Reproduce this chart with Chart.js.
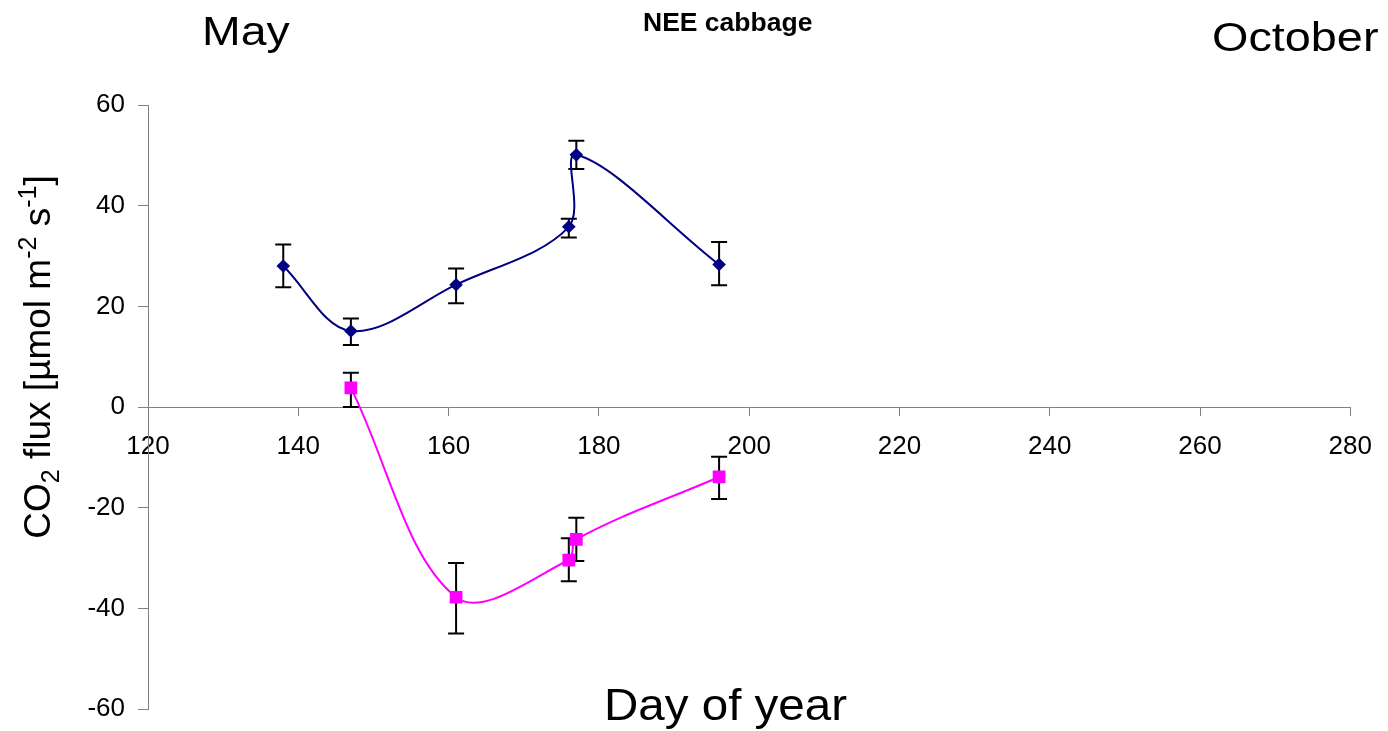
<!DOCTYPE html>
<html>
<head>
<meta charset="utf-8">
<script src="https://cdn.jsdelivr.net/npm/chart.js@4/dist/chart.umd.min.js"></script>
<style>
  html, body { margin: 0; padding: 0; background: #fff; }
  #wrap { width: 1388px; height: 731px; }
</style>
</head>
<body>
<div id="wrap"><canvas id="c" width="1388" height="731"></canvas></div>
<script>
// Axis ticks
const xTicks = [120, 140, 160, 180, 200, 220, 240, 260, 280];
const yTicks = [-60, -40, -20, 0, 20, 40, 60];

// Upper (positive) flux series, day of year, mean and error range
const daysA = [138, 147, 161, 176, 177, 196];
const fluxA = [28.0, 15.1, 24.3, 35.8, 50.1, 28.3];
const lowA  = [23.8, 12.3, 20.6, 33.7, 47.3, 24.2];
const highA = [32.3, 17.6, 27.5, 37.4, 52.9, 32.8];

// Lower (NEE) flux series
const daysB = [147, 161, 176, 177, 196];
const fluxB = [3.8, -37.8, -30.4, -26.3, -13.9];
const lowB  = [0.0, -45.0, -34.6, -30.6, -18.3];
const highB = [6.8, -31.0, -26.1, -22.0, -9.9];

const FONT = '"Liberation Sans", Arial, Helvetica, sans-serif';

const errorSets = [
  { days: daysA, low: lowA, high: highA },
  { days: daysB, low: lowB, high: highB }
];

// Vertical error bars with caps, drawn beneath the lines and markers
const errorBars = {
  id: 'errorBars',
  beforeDatasetsDraw(chart) {
    const { ctx, scales: { x, y } } = chart;
    const cap = 8;
    ctx.save();
    ctx.strokeStyle = '#000';
    ctx.lineWidth = 2;
    errorSets.forEach(set => {
      set.days.forEach((d, i) => {
        const px = x.getPixelForValue(d);
        const top = y.getPixelForValue(set.high[i]);
        const bot = y.getPixelForValue(set.low[i]);
        ctx.beginPath();
        ctx.moveTo(px, top); ctx.lineTo(px, bot);
        ctx.moveTo(px - cap, top); ctx.lineTo(px + cap, top);
        ctx.moveTo(px - cap, bot); ctx.lineTo(px + cap, bot);
        ctx.stroke();
      });
    });
    ctx.restore();
  }
};

function drawText(ctx, text, x, y, font, sx) {
  ctx.save();
  ctx.translate(x, y);
  ctx.scale(sx || 1, 1);
  ctx.font = font;
  ctx.fillText(text, 0, 0);
  ctx.restore();
}

// Titles, month markers and the axis captions
const captions = {
  id: 'captions',
  afterDraw(chart) {
    const ctx = chart.ctx;
    ctx.save();
    ctx.fillStyle = '#000';
    ctx.textBaseline = 'alphabetic';
    ctx.textAlign = 'left';
    drawText(ctx, 'NEE cabbage', 643, 31, 'bold 25px ' + FONT, 1.06);
    drawText(ctx, 'May', 202, 45, '40px ' + FONT, 1.16);
    drawText(ctx, 'October', 1212, 51, '40px ' + FONT, 1.17);
    drawText(ctx, 'Day of year', 604, 720, '44px ' + FONT, 1.08);

    // Rotated y caption with sub- and superscripts
    const big = '37px ' + FONT, small = '25px ' + FONT;
    const parts = [
      ['CO', big, 0], ['2', small, 9], [' flux [\u00b5mol m', big, 0],
      ['-2', small, -14], [' s', big, 0], ['-1', small, -14], [']', big, 0]
    ];
    let total = 0;
    parts.forEach(p => { ctx.font = p[1]; total += ctx.measureText(p[0]).width; });
    ctx.translate(50, 357);
    ctx.rotate(-Math.PI / 2);
    let cx = -total / 2;
    parts.forEach(p => {
      ctx.font = p[1];
      ctx.fillText(p[0], cx, p[2]);
      cx += ctx.measureText(p[0]).width;
    });
    ctx.restore();
  }
};

const toPoints = (xs, ys) => xs.map((d, i) => ({ x: d, y: ys[i] }));

new Chart(document.getElementById('c'), {
  type: 'line',
  data: {
    datasets: [
      {
        label: 'Flux A',
        data: toPoints(daysA, fluxA),
        borderColor: '#000080',
        backgroundColor: '#000080',
        borderWidth: 2,
        pointStyle: 'rectRot',
        pointRadius: 6.8,
        pointBorderWidth: 0,
        tension: 0.35,
        fill: false
      },
      {
        label: 'Flux B',
        data: toPoints(daysB, fluxB),
        borderColor: '#ff00ff',
        backgroundColor: '#ff00ff',
        borderWidth: 2,
        pointStyle: 'rect',
        pointRadius: 9,
        pointBorderWidth: 0,
        tension: 0.35,
        fill: false
      }
    ]
  },
  options: {
    responsive: false,
    animation: false,
    devicePixelRatio: 1,
    layout: { padding: { left: 0, right: 36, top: 105, bottom: 22 } },
    plugins: {
      legend: { display: false },
      title: { display: false },
      tooltip: { enabled: false }
    },
    scales: {
      x: {
        type: 'linear',
        min: 120,
        max: 280,
        position: { y: 0 },
        afterFit: s => { s.height = 0; },
        afterBuildTicks: s => { s.ticks = xTicks.map(v => ({ value: v })); },
        grid: { drawOnChartArea: false, drawTicks: true, tickLength: 8, color: '#808080' },
        border: { color: '#808080', width: 1 },
        ticks: { color: '#000', font: { family: FONT, size: 26 }, padding: 16, maxRotation: 0, autoSkip: false }
      },
      y: {
        type: 'linear',
        min: -60,
        max: 60,
        afterFit: s => { s.width = 148; s.paddingTop = 0; s.paddingBottom = 0; },
        afterBuildTicks: s => { s.ticks = yTicks.map(v => ({ value: v })); },
        grid: { drawOnChartArea: false, drawTicks: true, tickLength: 10, color: '#808080' },
        border: { color: '#808080', width: 1 },
        ticks: { color: '#000', font: { family: FONT, size: 26 }, padding: 13, autoSkip: false }
      }
    }
  },
  plugins: [errorBars, captions]
});
</script>
</body>
</html>
